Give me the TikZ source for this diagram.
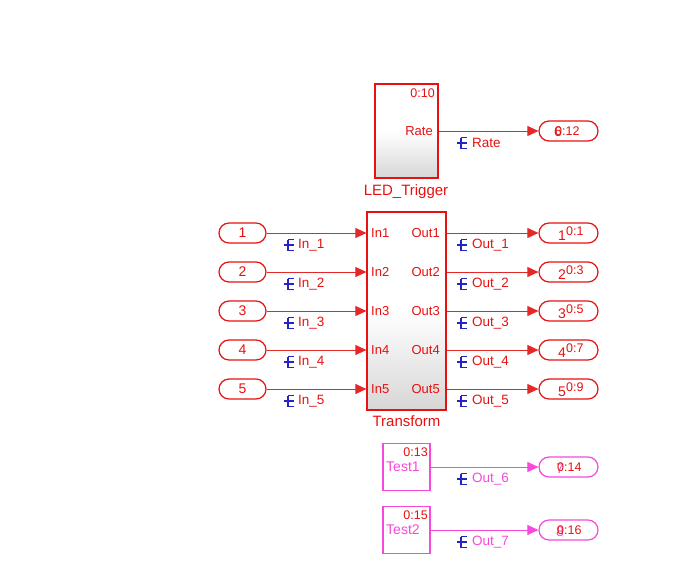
\documentclass[tikz,border=0pt]{standalone}
\usepackage{fontspec}
\setmainfont{Liberation Sans}
\usetikzlibrary{arrows.meta, positioning, calc}

\definecolor{slred}{RGB}{232,16,16}
\definecolor{slline}{RGB}{228,40,40}
\definecolor{slmag}{RGB}{248,72,220}
\definecolor{slblue}{RGB}{36,36,196}

\tikzset{
    lblmark/.pic={\draw[slblue, line width=1.3pt] (0,0) -- (10,0) (4,-5.5) -- (4,5.5) -- (10,5.5) (4,-5.5) -- (10,-5.5);},
}

\begin{document}
\begin{tikzpicture}[
    x=1pt, y=-1pt,
    blk/.style={draw=slred, line width=1.2pt, top color=white, bottom color=black!16, middle color=white, shading angle=0, inner sep=0},
    tstblk/.style={draw=slmag, line width=1.2pt, fill=white, minimum width=47pt, minimum height=47pt, inner sep=0},
    inport/.style={draw=slred, line width=1.2pt, rounded corners=10pt, minimum width=47pt, minimum height=20pt, inner sep=0, font=\fontsize{14}{14}\selectfont, text=slred},
    outport/.style={draw=#1, line width=1.2pt, rounded corners=10pt, minimum width=59pt, minimum height=20pt, inner sep=0},
    outport/.default=slred,
    ptnum/.style={anchor=base, inner sep=0, font=\fontsize{14}{14}\selectfont, text=#1},
    ptnum/.default=slred,
    tstime/.style={anchor=base west, inner sep=0, font=\fontsize{12.5}{12.5}\selectfont, text=slred},
    portlbl/.style={inner sep=0, font=\fontsize{13}{13}\selectfont, text=slred},
    blkname/.style={inner sep=0, font=\fontsize{15}{15}\selectfont, text=#1},
    blkname/.default=slred,
    siglbl/.style={anchor=west, inner sep=0, font=\fontsize{13.5}{13.5}\selectfont, text=#1},
    siglbl/.default=slred,
    sig/.style={draw=#1, line width=0.8pt, -{Triangle[length=11pt, width=10pt]}},
    sig/.default=slline,
]
\useasboundingbox (0,0) rectangle (692,578);

% LED_Trigger block
\node[blk, line width=2.6pt, minimum width=63pt, minimum height=94pt] (led) at (406.5,131) {};
\node[tstime, anchor=base east] (ledts) at (435,97) {0:10};
\node[portlbl, anchor=east] (ledrate) at (433,131) {Rate};
\node[blkname, anchor=north] (ledname) at (406,184) {LED\_Trigger};

\node[outport] (out6) at (568.5,131) {};
\node[ptnum] (num6) at (558,136) {6};
\node[tstime] (ts6) at (555,135) {0:12};
\draw[sig] (led.east |- ledrate) -- (out6.west);
\pic at (457,143) {lblmark};
\node[siglbl] (lrate) at (472,143) {Rate};

% Transform block
\node[blk, minimum width=79pt, minimum height=198pt] (trf) at (406.5,311) {};
\node[blkname, anchor=north] (trfname) at (406.5,415) {Transform};

% inports, outports and signals
\foreach \i/\y/\ts in {1/233/0:1, 2/272/0:3, 3/311/0:5, 4/350/0:7, 5/389/0:9} {
    \node[inport] (in\i) at (242.5,\y) {\i};
    \node[portlbl, anchor=west] (pin\i) at (371,\y) {In\i};
    \node[portlbl, anchor=east] (pout\i) at (440,\y) {Out\i};
    \draw[sig] (in\i.east) -- (in\i.east -| trf.west);
    \pic at (284,\y+12) {lblmark};
    \node[siglbl] (lin\i) at (298,\y+12) {In\_\i};

    \node[outport] (out\i) at (568.5,\y) {};
    \node[ptnum] (num\i) at (562,\y+7) {\i};
    \node[tstime] (ts\i) at (566,\y+2) {\ts};
    \draw[sig] (trf.east |- out\i) -- (out\i.west);
    \pic at (457,\y+12) {lblmark};
    \node[siglbl] (lout\i) at (472,\y+12) {Out\_\i};
}

% test blocks
\foreach \i/\y/\tb/\ts/\n in {1/467/0:13/0:14/6, 2/530/0:15/0:16/7} {
    \node[tstblk] (tst\i) at (406.5,\y) {};
    \node[tstime, anchor=base east] (tstts\i) at (428,\y-11) {\tb};
    \node[blkname=slmag, font=\fontsize{14}{14}\selectfont, anchor=west] (tstname\i) at (386,\y) {Test\i};
    \node[outport=slmag] (tout\i) at (568.5,\y) {};
    \pgfmathtruncatemacro{\k}{\i+6}
    \node[ptnum=slmag] (tnum\i) at (560,\y+6) {\k};
    \node[tstime] (tts\i) at (557,\y+4) {\ts};
    \draw[sig=slmag] (tst\i.east) -- (tout\i.west);
    \pic at (457,\y+12) {lblmark};
    \node[siglbl=slmag] (ltst\i) at (472,\y+12) {Out\_\n};
}

\end{tikzpicture}
\end{document}
